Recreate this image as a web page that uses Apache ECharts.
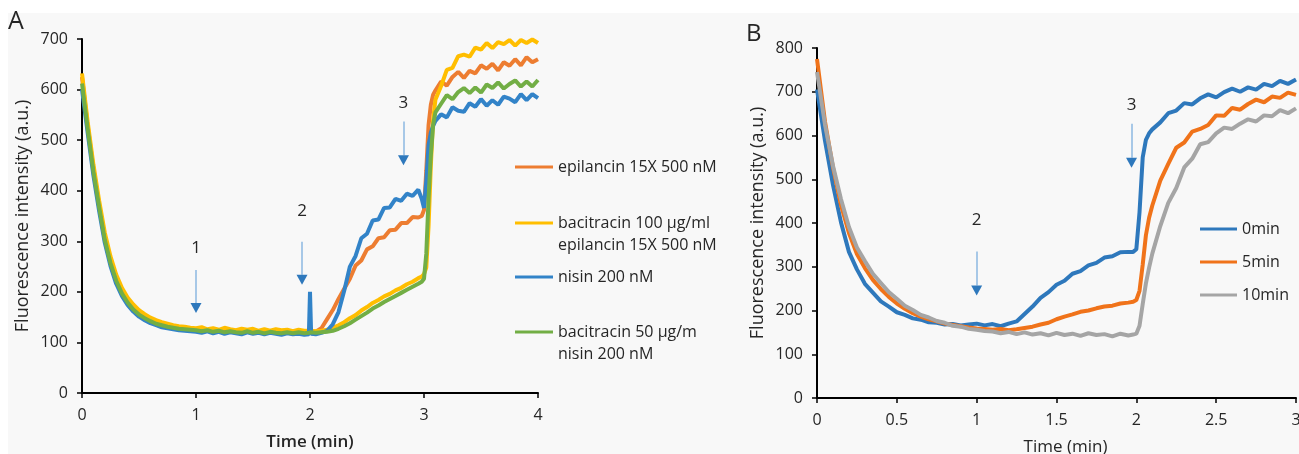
<!DOCTYPE html>
<html><head><meta charset="utf-8">
<script src="https://cdn.jsdelivr.net/npm/echarts@6/dist/echarts.min.js"></script>
<style>html,body{margin:0;padding:0;background:#fff}#c{width:1299px;height:454px}</style>
</head><body><div id="c"></div>
<script>
// ---------- Panel A data ----------
const xTicksA = [0, 1, 2, 3, 4];
const yTicksA = [0, 100, 200, 300, 400, 500, 600, 700];
const tA = [0,0.05,0.1,0.15,0.2,0.25,0.3,0.35,0.4,0.45,0.5,0.55,0.6,0.65,0.7,0.75,0.8,0.85,0.9,0.95,
  1,1.05,1.1,1.15,1.2,1.25,1.3,1.35,1.4,1.45,1.5,1.55,1.6,1.65,1.7,1.75,1.8,1.85,1.9,1.95,
  1.99,2,2.01,2.05,2.1,2.15,2.2,2.25,2.3,2.35,2.4,2.45,2.5,2.55,2.6,2.65,2.7,2.75,2.8,2.85,2.9,2.95,
  2.98,3,3.02,3.04,3.06,3.08,3.1,
  3.15,3.2,3.25,3.3,3.35,3.4,3.45,3.5,3.55,3.6,3.65,3.7,3.75,3.8,3.85,3.9,3.95,4];
const namesA = ['epilancin 15X 500 nM', 'bacitracin 100 µg/ml\nepilancin 15X 500 nM', 'nisin 200 nM', 'bacitracin 50 µg/m\nnisin 200 nM'];
const epilancinA = [625,528,444,372,309,262,226,201,182,168,158,150,143,139,135,133,130,129,127,126,
  125,127,123,125,122,126,123,121,124,122,125,121,123,120,124,121,122,120,123,121,
  122,121,122,121,128,146,164,186,206,226,252,262,284,290,306,308,322,323,336,336,348,347,
  350,362,440,530,570,590,598,
  616,608,625,635,623,637,632,648,641,651,638,654,647,660,648,664,654,660];
const baciEpiA = [632,536,452,381,317,270,234,208,189,175,164,156,149,144,140,137,134,132,131,129,
  128,130,126,128,125,129,126,124,127,125,127,123,126,123,126,124,125,122,125,123,
  123,122,123,122,123,125,129,134,140,148,154,163,170,178,184,191,196,203,208,215,220,227,
  230,235,248,330,450,540,580,
  607,639,643,666,669,665,683,679,692,682,694,690,698,687,698,692,699,692];
const nisinA = [600,514,430,360,297,251,216,192,174,161,151,144,138,134,130,128,126,124,123,122,
  121,119,122,118,121,117,120,118,116,120,117,119,116,119,117,115,118,116,117,115,
  116,200,117,116,119,123,136,160,202,250,271,306,315,341,343,366,367,384,380,394,390,402,
  384,366,420,490,515,528,538,
  551,545,565,558,556,573,566,581,568,579,570,586,582,575,591,579,591,583];
const baciNisinA = [612,522,438,368,303,257,222,197,179,165,155,148,142,137,134,131,129,127,126,125,
  124,122,124,121,123,120,122,120,119,122,119,121,118,121,119,118,120,118,120,118,
  119,119,120,119,120,121,123,127,132,138,145,152,159,167,173,180,186,192,198,204,210,216,
  220,226,275,385,470,530,555,
  572,589,581,595,603,593,604,594,610,603,614,602,611,618,606,616,606,619];
const colorsA = ['#ED7D31', '#FFBE00', '#3283C8', '#72AE45'];

// ---------- Panel B data ----------
const xTicksB = [0, 0.5, 1, 1.5, 2, 2.5, 3];
const yTicksB = [0, 100, 200, 300, 400, 500, 600, 700, 800];
const tB = [0,0.05,0.1,0.15,0.2,0.25,0.3,0.35,0.4,0.45,0.5,0.55,0.6,0.65,0.7,0.75,0.8,0.85,0.9,0.95,
  1,1.05,1.1,1.15,1.2,1.25,1.3,1.35,1.4,1.45,1.5,1.55,1.6,1.65,1.7,1.75,1.8,1.85,1.9,1.95,
  1.98,2,2.02,2.04,2.06,2.08,2.1,
  2.15,2.2,2.25,2.3,2.35,2.4,2.45,2.5,2.55,2.6,2.65,2.7,2.75,2.8,2.85,2.9,2.95,3];
const namesB = ['0min', '5min', '10min'];
const min0B = [705,588,487,402,334,294,261,241,221,209,196,190,182,179,173,172,168,169,166,168,
  170,166,169,164,170,175,192,209,229,242,259,268,284,290,303,309,321,324,333,334,
  334,340,425,550,590,605,614,
  630,651,657,674,671,685,694,687,699,707,700,710,705,718,713,725,718,728];
const min5B = [775,632,527,441,377,329,297,270,249,231,216,204,194,186,180,175,170,167,164,161,
  159,158,156,158,155,157,160,163,168,172,180,186,191,197,200,205,209,211,216,218,
  220,224,245,305,372,412,440,
  497,535,572,584,609,615,624,646,645,663,659,672,682,676,689,686,698,693];
const min10B = [745,625,531,455,391,344,313,284,263,242,227,211,201,190,184,176,172,165,163,158,
  156,153,152,148,151,146,150,145,148,143,149,144,147,142,148,144,146,141,147,143,
  145,147,165,215,262,298,330,
  393,446,480,527,547,580,585,605,618,615,627,637,632,646,644,658,651,662];
const colorsB = ['#2E78BC', '#F0731A', '#A5A5A5'];

// ---------- annotations (arrow x, arrow top, arrow tip, label, label y) ----------
const arrowsA = [[1.0, 243, 158, '1', 287], [1.93, 299, 214, '2', 359], [2.82, 537, 450, '3', 573]];
const arrowsB = [[1.0, 335, 234, '2', 406], [1.97, 627, 526, '3', 670]];

const FONT = 'Open Sans';
const TXT = '#262626';
const pairs = (t, v) => t.map((x, i) => [x, v[i]]);

function lineSeries(name, t, v, color, gi) {
  return { name, type: 'line', xAxisIndex: gi, yAxisIndex: gi, data: pairs(t, v),
    showSymbol: false, symbol: 'none', silent: true,
    lineStyle: { width: 4, color, join: 'bevel' }, itemStyle: { color } };
}
function arrowSeries(arrows, gi, headUnits) {
  return { name: 'arrows' + gi, type: 'line', xAxisIndex: gi, yAxisIndex: gi, data: [], silent: true,
    markLine: { silent: true, symbol: ['none', 'none'], animation: false,
      lineStyle: { color: '#8DB9E2', width: 1.5, type: 'solid' }, label: { show: false },
      data: arrows.map(a => [{ coord: [a[0], a[1]] }, { coord: [a[0], a[2] + headUnits] }]) },
    markPoint: { silent: true, animation: false,
      data: arrows.flatMap(a => [
        { coord: [a[0], a[2] + headUnits / 2], symbol: 'triangle', symbolRotate: 180, symbolSize: [11, 10],
          itemStyle: { color: '#2E78BC' }, label: { show: false } },
        { coord: [a[0], a[4]], symbol: 'circle', symbolSize: 0,
          label: { show: true, position: 'inside', formatter: a[3], color: TXT, fontSize: 17, fontFamily: FONT } }
      ]) } };
}
function xAxis(gi, ticks, bold, padLeft) {
  return { type: 'value', gridIndex: gi, min: ticks[0], max: ticks[ticks.length - 1], interval: ticks[1] - ticks[0],
    name: 'Time (min)', nameLocation: 'middle', nameGap: 41,
    nameTextStyle: { fontFamily: FONT, fontSize: 17, fontWeight: bold ? 600 : 'normal', color: TXT, padding: [0, 0, 0, padLeft] },
    axisLine: { show: true, onZero: false, lineStyle: { color: '#000', width: 2 } },
    axisTick: { show: true, length: 5, lineStyle: { color: '#000', width: 1.5 } },
    axisLabel: { fontFamily: FONT, fontSize: 16, color: TXT, margin: 14 },
    splitLine: { show: false } };
}
function yAxis(gi, ticks) {
  return { type: 'value', gridIndex: gi, min: ticks[0], max: ticks[ticks.length - 1], interval: ticks[1] - ticks[0],
    name: 'Fluorescence intensity (a.u.)', nameLocation: 'middle', nameGap: 50,
    nameTextStyle: { fontFamily: FONT, fontSize: 18, color: TXT },
    axisLine: { show: true, onZero: false, lineStyle: { color: '#000', width: 2 } },
    axisTick: { show: true, length: 5, lineStyle: { color: '#000', width: 1.5 } },
    axisLabel: { fontFamily: FONT, fontSize: 16, color: TXT, margin: 14 },
    splitLine: { show: false } };
}

// legend for panel A: one legend per entry; two-line entries get an icon whose line sits on the first text line
const twoLineIcon = 'path://M0,0H38V3H0Z M0,25H0.01V25.01H0Z';
const legendTopsA = [156, 212, 266, 321];
const legendStyle = { fontFamily: FONT, fontSize: 16, color: TXT, lineHeight: 22 };
const legendsA = namesA.map((n, i) => {
  const two = n.includes('\n');
  return { left: 515, top: legendTopsA[i], orient: 'vertical', padding: 0, selectedMode: false,
    icon: two ? twoLineIcon : 'rect', itemWidth: 38, itemHeight: two ? 25 : 3,
    itemStyle: { borderWidth: 0 }, textStyle: legendStyle, data: [n] };
});

const chart = echarts.init(document.getElementById('c'), null, { renderer: 'canvas' });
chart.setOption({
  animation: false,
  backgroundColor: '#F8F8F8',
  graphic: [
    { type: 'rect', shape: { x: 0, y: 0, width: 1299, height: 13 }, style: { fill: '#fff' }, silent: true },
    { type: 'rect', shape: { x: 0, y: 0, width: 8, height: 454 }, style: { fill: '#fff' }, silent: true },
    { type: 'text', left: 8, top: 9, style: { text: 'A', font: '25px "Open Sans"', fill: TXT } },
    { type: 'text', left: 746, top: 22, style: { text: 'B', font: '24px "Open Sans"', fill: TXT } }
  ],
  grid: [
    { left: 82, top: 39, width: 456, height: 354, containLabel: false, outerBoundsMode: 'none' },
    { left: 817, top: 48, width: 479, height: 350, containLabel: false, outerBoundsMode: 'none' }
  ],
  xAxis: [xAxis(0, xTicksA, true, 0), xAxis(1, xTicksB, false, 18)],
  yAxis: [yAxis(0, yTicksA), yAxis(1, yTicksB)],
  legend: legendsA.concat([
    { left: 1200, top: 218, orient: 'vertical', padding: 0, itemGap: 11, icon: 'rect', itemWidth: 37, itemHeight: 3,
      selectedMode: false, itemStyle: { borderWidth: 0 }, textStyle: legendStyle, data: namesB }
  ]),
  series: [
    lineSeries(namesA[0], tA, epilancinA, colorsA[0], 0),
    lineSeries(namesA[1], tA, baciEpiA, colorsA[1], 0),
    lineSeries(namesA[2], tA, nisinA, colorsA[2], 0),
    lineSeries(namesA[3], tA, baciNisinA, colorsA[3], 0),
    arrowSeries(arrowsA, 0, 20),
    lineSeries(namesB[0], tB, min0B, colorsB[0], 1),
    lineSeries(namesB[1], tB, min5B, colorsB[1], 1),
    lineSeries(namesB[2], tB, min10B, colorsB[2], 1),
    arrowSeries(arrowsB, 1, 23)
  ]
});
</script></body></html>
